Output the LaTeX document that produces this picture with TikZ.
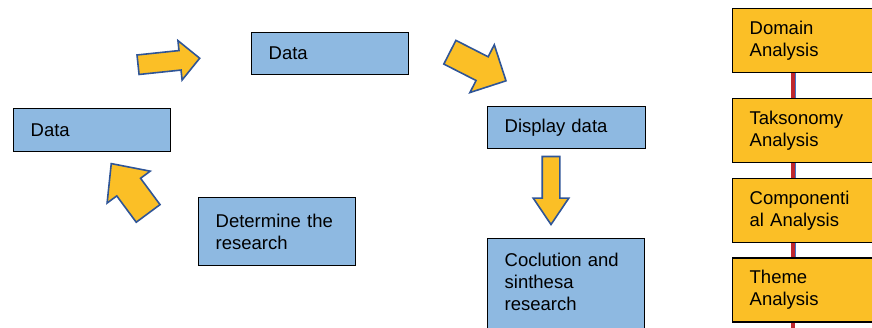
\documentclass[tikz,border=0pt]{standalone}
\usepackage{fontspec}
\setmainfont{Liberation Sans}
\usetikzlibrary{positioning,shapes.arrows}
\definecolor{boxblue}{RGB}{142,185,225}
\definecolor{gold}{RGB}{251,191,38}
\definecolor{arrowline}{RGB}{47,85,151}
\definecolor{linkred}{RGB}{192,39,45}
\definecolor{linkblue}{RGB}{68,114,196}

\begin{document}
\begin{tikzpicture}[x=1pt,y=1pt,font=\fontsize{18.5}{22}\selectfont,node distance=14.5pt,
  box/.style={draw,line width=1.3pt,fill=boxblue,align=left,anchor=north west,
              inner xsep=17pt,text width=123pt},
  stagebox/.style={box,fill=gold,text width=116pt,minimum height=64pt},
  blockarrow/.style={single arrow,draw=arrowline,fill=gold,line width=1.6pt,
              inner xsep=0pt,single arrow tip angle=90},
  stagelink/.style={draw=linkred,line width=4pt},
  stagelinkthin/.style={draw=linkblue,line width=1pt}]
\useasboundingbox (0,0) rectangle (872,327);
\clip (0,0) rectangle (872,327);
% research cycle
\node[box,minimum height=42pt] (datatop) at (251,295) {Data};
\node[box,minimum height=43pt] (dataleft) at (13,219) {Data};
\node[box,minimum height=42pt,text width=124pt] (display) at (487,221) {Display data};
\node[box,minimum height=68pt] (determine) at (198,130) {Determine the\\ research};
\node[box,inner ysep=14pt,text depth=70pt] (concl) at (487,89)
  {Coclution and\\ sinthesa\\ research};
% block arrows
\node[blockarrow,minimum height=62pt,inner ysep=9pt,single arrow head extend=10pt,
  rotate=6] (arrup) at (164,265) {};
\node[blockarrow,minimum height=63pt,inner ysep=12.5pt,single arrow head extend=13.5pt,
  rotate=-27] (arrdiag) at (472,263.5) {};
\node[blockarrow,minimum height=68pt,inner ysep=8pt,single arrow head extend=9pt,
  single arrow tip angle=68,rotate=-90] (arrdown) at (551,143) {};
\node[blockarrow,minimum height=62pt,inner ysep=14pt,single arrow head extend=12pt,
  single arrow tip angle=85,rotate=126.5] (arrback) at (134.5,132) {};
% analysis stages
\node[stagebox] (dom) at (732,319) {Domain\\ Analysis};
\node[stagebox,below=24.5pt of dom.south west,anchor=north west] (tak) {Taksonomy\\ Analysis};
\node[stagebox,below=of tak.south west,anchor=north west] (comp) {Componenti\\ al Analysis};
\node[stagebox,below=of comp.south west,anchor=north west] (theme) {Theme\\ Analysis};
\coordinate[below=6pt of theme.south west] (tail);
\draw[stagelink] ([xshift=61pt]dom.south west) -- ([xshift=61pt]tak.north west);
\draw[stagelink] ([xshift=61pt]tak.south west) -- ([xshift=61pt]comp.north west);
\draw[stagelink] ([xshift=61pt]comp.south west) -- ([xshift=61pt]theme.north west);
\draw[stagelink] ([xshift=61pt]theme.south west) -- ([xshift=61pt]tail);
\draw[stagelinkthin] ([xshift=63.5pt]dom.south west) -- ([xshift=63.5pt]tak.north west);
\draw[stagelinkthin] ([xshift=63.5pt]tak.south west) -- ([xshift=63.5pt]comp.north west);
\draw[stagelinkthin] ([xshift=63.5pt]comp.south west) -- ([xshift=63.5pt]theme.north west);
\end{tikzpicture}
\end{document}
